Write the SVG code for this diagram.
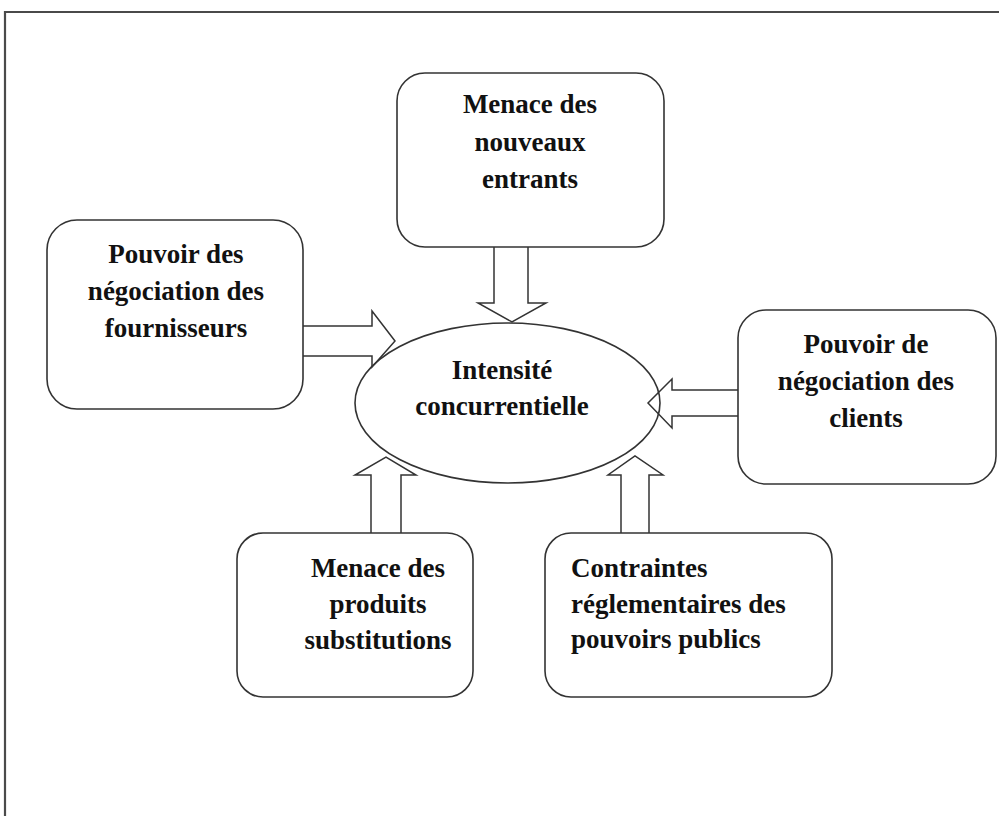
<svg xmlns="http://www.w3.org/2000/svg" width="999" height="816" viewBox="0 0 999 816">
<style>
.box{fill:#fff;stroke:#333;stroke-width:1.6}
.arr{fill:none;stroke:#333;stroke-width:1.5;stroke-linejoin:miter}
.t{font-family:"Liberation Serif","Times New Roman",serif;font-weight:bold;font-size:27px;fill:#111}
.c{text-anchor:middle}
.frame{fill:none;stroke:#4a4a4a;stroke-width:2.2}
</style>
<rect width="999" height="816" fill="#fff"/>
<path class="frame" d="M5,816 V12 H999"/>
<g id="top">
<rect class="box" x="397" y="73" width="267" height="174" rx="28"/>
<text class="t c" x="530" y="113">Menace des</text>
<text class="t c" x="530" y="151">nouveaux</text>
<text class="t c" x="530" y="188">entrants</text>
</g>
<g id="left">
<rect class="box" x="47" y="220" width="256" height="189" rx="30"/>
<text class="t c" x="176" y="263">Pouvoir des</text>
<text class="t c" x="176" y="300">négociation des</text>
<text class="t c" x="176" y="337">fournisseurs</text>
</g>
<g id="right">
<rect class="box" x="738" y="310" width="258" height="174" rx="28"/>
<text class="t c" x="866" y="353">Pouvoir de</text>
<text class="t c" x="866" y="390">négociation des</text>
<text class="t c" x="866" y="427">clients</text>
</g>
<g id="bottomleft">
<rect class="box" x="237" y="533" width="236" height="164" rx="26"/>
<text class="t c" x="378" y="577">Menace des</text>
<text class="t c" x="378" y="613">produits</text>
<text class="t c" x="378" y="649">substitutions</text>
</g>
<g id="bottomright">
<rect class="box" x="545" y="533" width="287" height="164" rx="26"/>
<text class="t" x="571" y="577">Contraintes</text>
<text class="t" x="571" y="613">réglementaires des</text>
<text class="t" x="571" y="648">pouvoirs publics</text>
</g>
<g id="center">
<ellipse cx="507.5" cy="403" rx="152.5" ry="80" fill="none" stroke="#333" stroke-width="1.6"/>
<text class="t c" x="502" y="379">Intensité</text>
<text class="t c" x="502" y="415">concurrentielle</text>
</g>
<g id="connectors">
<path class="arr" d="M494,247 V303 H478 L512,322 L546,303 H528 V247"/>
<path class="arr" d="M303,326 H372 V311 L395,341 L372,367 V356 H303"/>
<path class="arr" d="M738,390 H672 V379 L648,403 L672,428 V416 H738"/>
<path class="arr" d="M371,533 V475 H355 L386,457 L416,475 H401 V533"/>
<path class="arr" d="M621,533 V475 H608 L635,456 L663,475 H649 V533"/>
</g>
</svg>
